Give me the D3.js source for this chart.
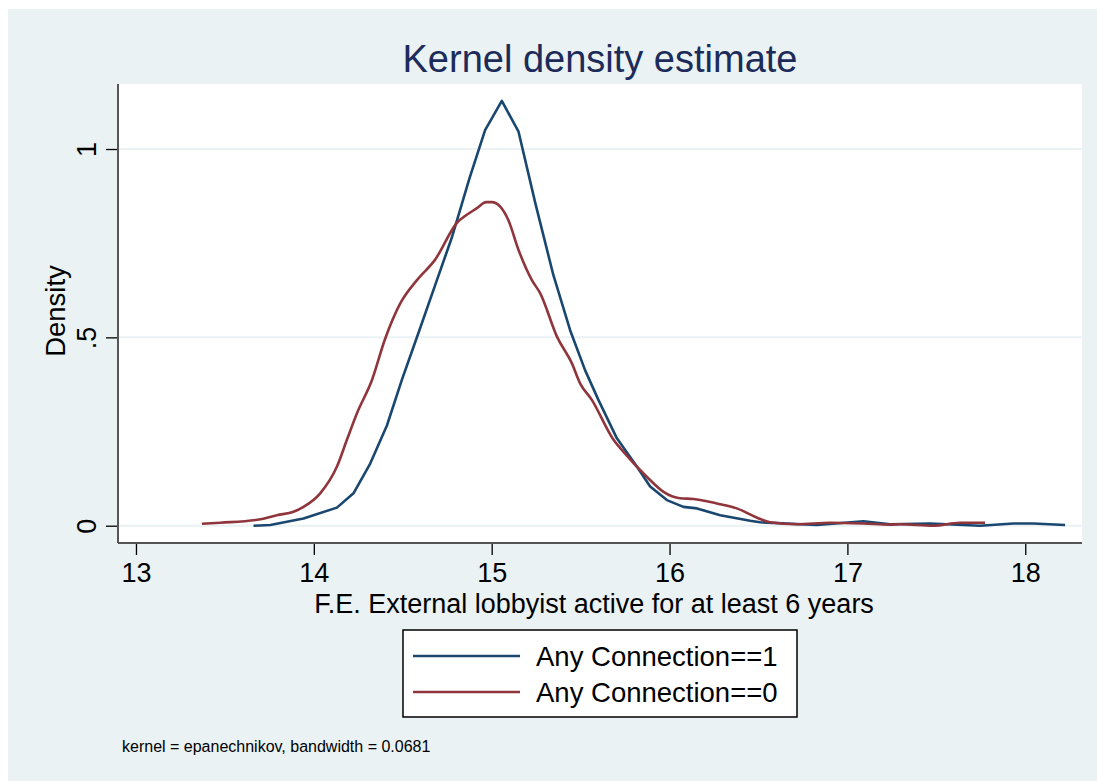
<!DOCTYPE html>
<html>
<head>
<meta charset="utf-8">
<script src="https://cdn.jsdelivr.net/npm/d3@7/dist/d3.min.js"></script>
<style>
  html, body { margin: 0; padding: 0; background: #ffffff; }
  svg { display: block; font-family: "Liberation Sans", Arial, sans-serif; }
</style>
</head>
<body>
<svg id="chart" width="1097" height="781"></svg>
<script>
// ---- data ----
const conn1X = [13.661,13.755,13.942,14.130,14.223,14.317,14.411,14.495,14.598,14.692,14.776,14.875,14.963,15.057,15.151,15.246,15.347,15.441,15.525,15.600,15.704,15.816,15.891,15.985,16.078,16.154,16.285,16.453,16.509,16.828,17.090,17.240,17.465,17.746,17.933,18.046,18.224];
const conn1Y = [0.000,0.002,0.019,0.048,0.086,0.165,0.266,0.387,0.525,0.652,0.765,0.922,1.050,1.128,1.046,0.855,0.665,0.519,0.413,0.334,0.232,0.157,0.104,0.068,0.050,0.046,0.028,0.013,0.009,0.002,0.012,0.004,0.006,0.000,0.006,0.006,0.002];
const conn0X = [13.371,13.474,13.699,13.792,13.886,13.942,14.036,14.130,14.186,14.242,14.327,14.400,14.486,14.580,14.680,14.810,14.850,14.917,14.969,15.001,15.048,15.094,15.151,15.226,15.273,15.367,15.451,15.497,15.563,15.685,15.741,15.872,15.966,16.059,16.134,16.266,16.378,16.490,16.565,16.715,16.903,17.090,17.240,17.296,17.483,17.633,17.774];
const conn0Y = [0.005,0.008,0.017,0.028,0.037,0.050,0.086,0.157,0.228,0.298,0.387,0.495,0.590,0.652,0.705,0.807,0.822,0.843,0.859,0.859,0.847,0.811,0.732,0.652,0.617,0.502,0.431,0.378,0.334,0.228,0.196,0.130,0.090,0.073,0.071,0.059,0.046,0.022,0.009,0.004,0.008,0.006,0.003,0.004,0.000,0.008,0.008];
const xTicks = [13, 14, 15, 16, 17, 18];
const yTicks = [0, 0.5, 1];
const yTickLabels = ["0", ".5", "1"];
const seriesNames = ["Any Connection==1", "Any Connection==0"];
const titleText = "Kernel density estimate";
const xTitle = "F.E. External lobbyist active for at least 6 years";
const yTitle = "Density";
const noteText = "kernel = epanechnikov, bandwidth = 0.0681";

// ---- layout ----
const W = 1097, H = 781;
const plot = { left: 118, right: 1082, top: 84, bottom: 543 };
const colors = ["#1a476f", "#90353b"];
const bg = "#eaf2f3";

const svg = d3.select("#chart");
svg.append("rect").attr("x", 8).attr("y", 9).attr("width", W - 8).attr("height", H - 9).attr("fill", bg);
svg.append("rect").attr("x", plot.left).attr("y", plot.top)
  .attr("width", plot.right - plot.left).attr("height", plot.bottom - plot.top).attr("fill", "#ffffff");

const x = d3.scaleLinear().domain([12.899, 18.319]).range([plot.left, plot.right]);
const y = d3.scaleLinear().domain([-0.0459, 1.1726]).range([plot.bottom, plot.top]);

// gridlines
svg.append("g").selectAll("line").data(yTicks).join("line")
  .attr("x1", plot.left).attr("x2", plot.right)
  .attr("y1", d => y(d)).attr("y2", d => y(d))
  .attr("stroke", bg).attr("stroke-width", 2);

// curves
const line1 = d3.line().x(d => x(d[0])).y(d => y(d[1]));
const line0 = d3.line().x(d => x(d[0])).y(d => y(d[1])).curve(d3.curveMonotoneX);
const s1 = conn1X.map((v, i) => [v, conn1Y[i]]);
const s0 = conn0X.map((v, i) => [v, conn0Y[i]]);
svg.append("path").datum(s1).attr("d", line1).attr("fill", "none")
  .attr("stroke", colors[0]).attr("stroke-width", 2.6).attr("stroke-linejoin", "round");
svg.append("path").datum(s0).attr("d", line0).attr("fill", "none")
  .attr("stroke", colors[1]).attr("stroke-width", 2.6).attr("stroke-linejoin", "round");

// axes
const xAxis = d3.axisBottom(x).tickValues(xTicks).tickSize(12).tickPadding(8).tickFormat(d3.format("d"));
const gx = svg.append("g").attr("transform", `translate(0,${plot.bottom})`).call(xAxis);
gx.select(".domain").remove();
gx.selectAll(".tick line").attr("stroke", "#000").attr("stroke-width", 1.3);
gx.selectAll(".tick text").attr("fill", "#000").attr("font-size", 27).attr("font-family", "Liberation Sans, Arial, sans-serif");
svg.append("line").attr("x1", plot.left).attr("x2", plot.right).attr("y1", plot.bottom).attr("y2", plot.bottom)
  .attr("stroke", "#555").attr("stroke-width", 2);

const yAxis = d3.axisLeft(y).tickValues(yTicks).tickSize(12).tickFormat((d, i) => yTickLabels[i]);
const gy = svg.append("g").attr("transform", `translate(${plot.left},0)`).call(yAxis);
gy.select(".domain").remove();
gy.selectAll(".tick line").attr("stroke", "#000").attr("stroke-width", 1.3);
gy.selectAll(".tick text")
  .attr("fill", "#000").attr("font-size", 27).attr("font-family", "Liberation Sans, Arial, sans-serif")
  .attr("x", null).attr("dy", null)
  .attr("text-anchor", "middle")
  .attr("transform", "translate(-22,0) rotate(-90)");
svg.append("line").attr("x1", plot.left).attr("x2", plot.left).attr("y1", plot.top).attr("y2", plot.bottom)
  .attr("stroke", "#555").attr("stroke-width", 2);

// titles
svg.append("text").attr("x", 600).attr("y", 72).attr("text-anchor", "middle")
  .attr("font-size", 38).attr("fill", "#1c2b5a").text(titleText);
svg.append("text").attr("x", 594).attr("y", 613).attr("text-anchor", "middle")
  .attr("font-size", 27).attr("fill", "#000").text(xTitle);
svg.append("text").attr("transform", "translate(65,311) rotate(-90)").attr("text-anchor", "middle")
  .attr("font-size", 27.5).attr("fill", "#000").text(yTitle);

// legend
const lg = svg.append("g");
lg.append("rect").attr("x", 403).attr("y", 630).attr("width", 394).attr("height", 87)
  .attr("fill", "#fff").attr("stroke", "#000").attr("stroke-width", 1.5);
seriesNames.forEach((name, i) => {
  const cy = 656 + i * 36;
  lg.append("line").attr("x1", 413).attr("x2", 520).attr("y1", cy).attr("y2", cy)
    .attr("stroke", colors[i]).attr("stroke-width", 2.6);
  lg.append("text").attr("x", 536).attr("y", cy + 10).attr("font-size", 27.5).attr("fill", "#000").text(name);
});

// note
svg.append("text").attr("x", 122).attr("y", 752).attr("font-size", 16).attr("fill", "#000").text(noteText);
</script>
</body>
</html>
